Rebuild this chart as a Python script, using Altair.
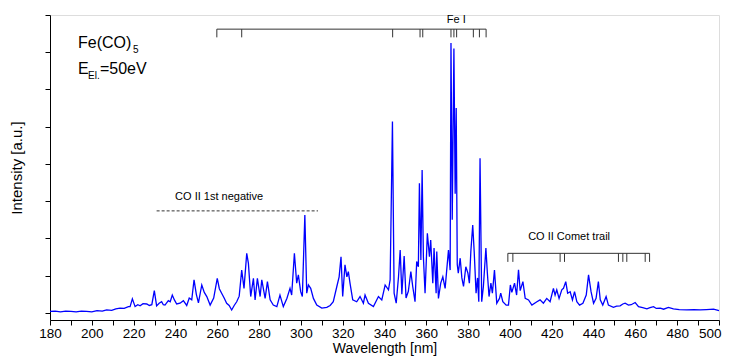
import altair as alt
import pandas as pd

# ---------------- data ----------------
wavelength = [
    180.0, 182.5, 185.0, 187.5, 190.0, 192.5, 195.0, 197.5, 200.0, 202.5,
    205.0, 207.1, 209.5, 211.5, 213.5, 215.5, 217.5, 218.3, 219.4, 220.7,
    222.0, 223.1, 224.5, 226.3, 227.5, 228.7, 229.9, 231.0, 232.2, 233.4,
    234.2, 235.0, 236.6, 237.5, 238.5, 239.5, 240.6, 242.2, 243.8, 245.4,
    246.6, 247.8, 248.9, 250.0, 251.0, 252.6, 253.8, 255.0, 256.6, 258.3,
    260.0, 261.0, 262.1, 263.3, 264.5, 265.7, 266.9, 268.1, 269.3, 270.5,
    271.7, 272.8, 274.1, 274.9, 276.0, 277.3, 278.1, 279.2, 280.5, 281.3,
    282.9, 284.0, 285.3, 286.8, 288.5, 290.0, 291.6, 293.3, 294.8, 295.6,
    296.9, 298.0, 298.8, 299.9, 300.7, 301.9, 302.8, 303.6, 304.7, 306.0,
    307.6, 310.0, 312.4, 314.0, 315.5, 317.2, 318.3, 319.2, 320.0, 321.1,
    322.0, 322.7, 323.5, 324.8, 326.7, 328.3, 329.9, 330.7, 332.3, 334.7,
    337.1, 338.7, 340.3, 341.9, 342.7, 343.8, 344.6, 345.6, 346.7, 347.5,
    348.3, 349.4, 350.3, 351.4, 352.6, 353.5, 354.6, 355.4, 356.2, 356.7,
    357.4, 358.0, 358.6, 359.4, 360.5, 361.5, 362.1, 363.1, 363.7, 364.7,
    365.0, 365.8, 366.9, 367.9, 369.0, 370.6, 371.4, 371.8, 372.4, 373.2,
    373.8, 374.3, 374.8, 375.3, 376.2, 377.0, 377.8, 378.9, 379.9, 380.6,
    381.3, 382.2, 382.9, 383.8, 384.5, 385.1, 385.7, 386.5, 387.3, 388.5,
    389.2, 390.0, 390.9, 391.6, 392.6, 393.7, 395.0, 395.6, 396.6, 398.2,
    399.3, 400.2, 400.9, 402.2, 403.2, 404.1, 404.9, 406.2, 407.3, 408.9,
    410.5, 412.9, 414.4, 416.0, 417.6, 419.2, 420.8, 421.6, 422.4, 423.5,
    424.8, 425.6, 426.7, 427.6, 428.8, 429.9, 430.9, 432.0, 433.3, 434.9,
    436.5, 437.6, 438.8, 440.0, 441.2, 442.3, 443.2, 444.4, 446.0, 447.1,
    449.5, 451.0, 452.7, 454.0, 455.1, 456.7, 458.0, 459.9, 461.5, 463.5,
    465.5, 467.0, 468.7, 470.0, 471.9, 473.5, 475.8, 478.2, 481.0, 484.6,
    488.0, 491.0, 494.0, 497.4, 500.0,
]
intensity = [
    0.04, 0.05, 0.03, 0.05, 0.04, 0.03, 0.05, 0.04, 0.03, 0.06,
    0.05, 0.08, 0.07, 0.11, 0.13, 0.12, 0.17, 0.17, 0.38, 0.17,
    0.22, 0.19, 0.25, 0.24, 0.20, 0.22, 0.60, 0.19, 0.26, 0.30,
    0.22, 0.21, 0.33, 0.30, 0.48, 0.35, 0.24, 0.26, 0.33, 0.20,
    0.40, 0.35, 0.89, 0.50, 0.27, 0.75, 0.55, 0.44, 0.21, 0.40,
    0.93, 0.65, 0.53, 0.40, 0.26, 0.20, 0.08, 0.20, 0.30, 0.45,
    1.15, 0.66, 1.60, 1.33, 0.44, 0.93, 0.35, 0.93, 0.44, 0.89,
    0.39, 0.84, 0.35, 0.21, 0.17, 0.48, 0.17, 0.39, 0.66, 0.48,
    1.60, 0.80, 1.02, 0.57, 0.44, 2.63, 0.53, 0.75, 0.66, 0.39,
    0.21, 0.13, 0.15, 0.20, 0.30, 0.71, 0.97, 1.51, 0.44, 1.29,
    0.97, 1.11, 0.80, 0.35, 0.30, 0.44, 0.26, 0.48, 0.26, 0.17,
    0.44, 0.35, 0.75, 0.62, 0.89, 5.14, 0.53, 0.26, 0.97, 1.69,
    0.50, 1.53, 0.40, 0.58, 1.11, 0.71, 0.30, 1.38, 1.24, 3.48,
    1.42, 3.84, 1.51, 0.53, 2.14, 1.51, 1.96, 0.80, 1.74, 0.53,
    1.65, 0.39, 0.80, 0.97, 0.66, 1.69, 1.15, 7.25, 2.50, 7.10,
    3.20, 5.50, 1.30, 1.07, 1.47, 0.94, 0.71, 1.24, 1.07, 0.80,
    1.65, 2.36, 1.65, 0.53, 0.94, 0.30, 4.15, 0.30, 0.71, 1.74,
    1.07, 0.44, 0.80, 0.53, 1.15, 0.26, 0.39, 0.53, 0.30, 0.21,
    0.21, 0.75, 0.55, 0.80, 0.48, 1.16, 0.60, 0.84, 0.39, 0.35,
    0.21, 0.30, 0.35, 0.26, 0.39, 0.30, 0.66, 0.48, 0.62, 0.39,
    0.62, 0.66, 0.84, 0.53, 0.57, 0.35, 0.57, 0.30, 0.21, 0.26,
    0.48, 1.02, 0.57, 0.26, 0.39, 0.84, 0.35, 0.21, 0.44, 0.21,
    0.15, 0.18, 0.19, 0.24, 0.26, 0.21, 0.22, 0.28, 0.17, 0.14,
    0.11, 0.14, 0.17, 0.12, 0.13, 0.10, 0.15, 0.11, 0.09, 0.08,
    0.09, 0.08, 0.09, 0.10, 0.06,
]

fe_lines = [259.8, 271.7, 343.9, 357.0, 358.3, 371.8, 373.2, 374.5, 382.5, 385.4, 388.6]
co_comet_lines = [399.0, 401.4, 424.0, 426.1, 451.9, 454.0, 455.9, 464.7, 466.8]
co_negative_range = [231.0, 308.2]

x_ticks = list(range(180, 501, 10))
y_ticks = list(range(0, 9))

# ---------------- chart ----------------
FONT = "Liberation Sans"
x_scale = alt.Scale(domain=[180, 500], nice=False, zero=False)
y_scale = alt.Scale(domain=[-0.19, 8], nice=False, zero=False)

x_axis = alt.Axis(
    title="Wavelength [nm]",
    values=x_ticks,
    labelExpr="datum.value % 20 == 0 ? datum.label : ''",
    labelAlign={"condition": {"test": "datum.value >= 500", "value": "right"}, "value": "center"},
    labelOffset={"condition": {"test": "datum.value >= 500", "value": 2}, "value": 0},
    grid=False,
    tickSize=5,
    tickColor="black",
    domainColor="black",
    labelColor="black",
    titleColor="black",
    labelFont=FONT,
    titleFont=FONT,
    labelFontSize=13.5,
    titleFontSize=14,
    titleFontWeight="normal",
    labelPadding=1,
    titlePadding=2,
    labelFlush=False,
)
y_axis = alt.Axis(
    title="Intensity [a.u.]",
    values=y_ticks,
    labels=False,
    grid=False,
    tickSize=5,
    tickColor="black",
    domainColor="black",
    titleColor="black",
    titleFont=FONT,
    titleFontSize=15,
    titleFontWeight="normal",
    titlePadding=20,
)


def xe(field):
    return alt.X(field, type="quantitative", scale=x_scale, axis=x_axis)


def ye(field):
    return alt.Y(field, type="quantitative", scale=y_scale, axis=y_axis)


spec = pd.DataFrame({"wavelength": wavelength, "intensity": intensity})

spectrum = alt.Chart(spec).mark_line(color="#0000ff", strokeWidth=1.3).encode(
    x=xe("wavelength"), y=ye("intensity")
)

RULE = dict(color="#333333", strokeWidth=1)

# Fe I bracket
fe_h = alt.Chart(
    pd.DataFrame({"a": [min(fe_lines)], "b": [max(fe_lines)], "y": [7.62]})
).mark_rule(**RULE).encode(x=xe("a"), x2="b", y=ye("y"))
fe_t = alt.Chart(
    pd.DataFrame({"w": fe_lines, "y": [7.62] * len(fe_lines), "y2": [7.40] * len(fe_lines)})
).mark_rule(**RULE).encode(x=xe("w"), y=ye("y"), y2="y2")

# CO II comet trail bracket
co_h = alt.Chart(
    pd.DataFrame({"a": [min(co_comet_lines)], "b": [max(co_comet_lines)], "y": [1.60]})
).mark_rule(**RULE).encode(x=xe("a"), x2="b", y=ye("y"))
co_t = alt.Chart(
    pd.DataFrame(
        {"w": co_comet_lines, "y": [1.60] * len(co_comet_lines), "y2": [1.37] * len(co_comet_lines)}
    )
).mark_rule(**RULE).encode(x=xe("w"), y=ye("y"), y2="y2")

# CO II 1st negative dashed line
neg = alt.Chart(
    pd.DataFrame({"a": [co_negative_range[0]], "b": [co_negative_range[1]], "y": [2.74]})
).mark_rule(color="#333333", strokeWidth=1, strokeDash=[3, 2]).encode(
    x=xe("a"), x2="b", y=ye("y")
)

labels_small = pd.DataFrame(
    {
        "x": [374.3, 428.3, 260.9],
        "y": [7.87, 2.05, 3.11],
        "t": ["Fe I", "CO II Comet trail", "CO II 1st negative"],
    }
)
small_txt = alt.Chart(labels_small).mark_text(
    font=FONT, fontSize=11, color="black", align="center", baseline="middle"
).encode(x=xe("x"), y=ye("y"), text="t:N")

big = pd.DataFrame({"x": [193.4, 193.4, 203.9], "y": [7.11, 6.42, 6.42], "t": ["Fe(CO)", "E", "=50eV"]})
big_txt = alt.Chart(big).mark_text(
    font=FONT, fontSize=16, color="black", align="left", baseline="alphabetic"
).encode(x=xe("x"), y=ye("y"), text="t:N")

sub = pd.DataFrame({"x": [219.7, 198.2], "y": [6.98, 6.28], "t": ["5", "El."]})
sub_txt = alt.Chart(sub).mark_text(
    font=FONT, fontSize=10, color="black", align="left", baseline="alphabetic"
).encode(x=xe("x"), y=ye("y"), text="t:N")

chart = (
    alt.layer(spectrum, fe_h, fe_t, co_h, co_t, neg, small_txt, big_txt, sub_txt)
    .properties(
        width=669,
        height=305,
        autosize=alt.AutoSizeParams(type="none"),
        padding={"left": 42, "top": 7, "right": 4, "bottom": 36},
    )
    .configure_view(strokeWidth=0)
    .configure(background="white")
)

chart.save("out.html", embed_options={"renderer": "svg", "actions": False})
